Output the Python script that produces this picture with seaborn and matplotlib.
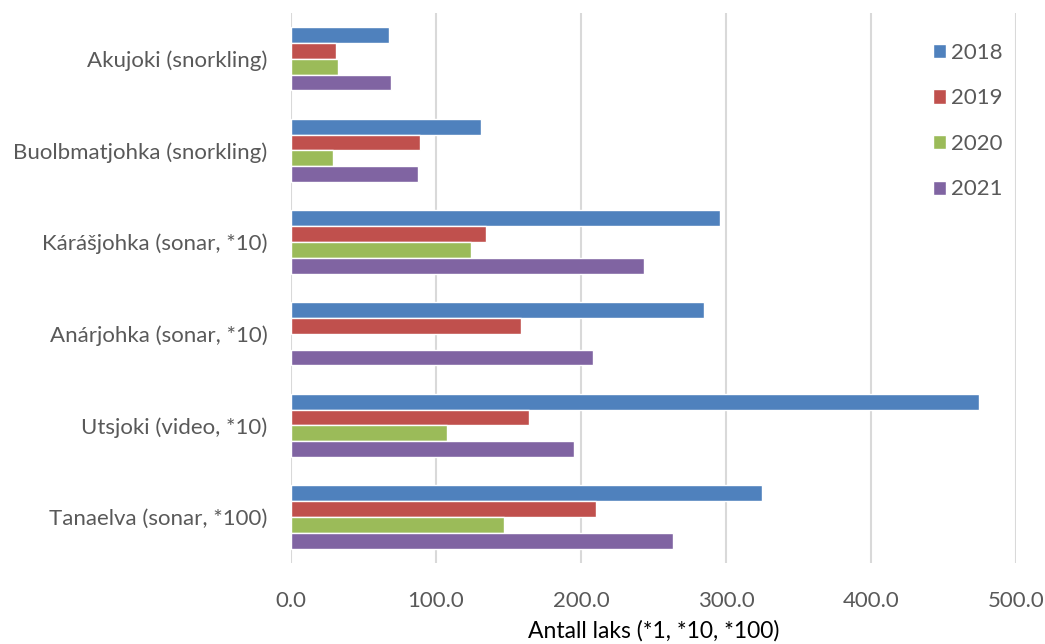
import numpy as np
import pandas as pd
import matplotlib
matplotlib.use("Agg")
import matplotlib.pyplot as plt
import seaborn as sns

rivers = [
    "Akujoki (snorkling)",
    "Buolbmatjohka (snorkling)",
    "Kárášjohka (sonar, *10)",
    "Anárjohka (sonar, *10)",
    "Utsjoki (video, *10)",
    "Tanaelva (sonar, *100)",
]
years = ["2018", "2019", "2020", "2021"]
v2018 = [67.9, 131.0, 296.2, 284.7, 474.6, 324.8]
v2019 = [30.8, 88.9, 134.3, 158.9, 164.4, 210.2]
v2020 = [32.7, 28.8, 123.9, np.nan, 107.6, 146.7]
v2021 = [68.8, 87.7, 243.7, 208.0, 195.2, 263.8]
colors = ["#4F81BD", "#C0504D", "#9BBB59", "#8064A2"]

df = pd.DataFrame({
    "elv": rivers * 4,
    "år": sum([[y] * len(rivers) for y in years], []),
    "antall": v2018 + v2019 + v2020 + v2021,
})

sns.set_theme(style="white")
plt.rcParams["font.family"] = ["Lato", "DejaVu Sans"]

fig = plt.figure(figsize=(10.45, 6.44), dpi=100)
ax = fig.add_axes([0.2785, 0.126, 0.9722 - 0.2785, 0.98 - 0.126])

sns.barplot(data=df, y="elv", x="antall", hue="år", order=rivers,
            hue_order=years, palette=colors, orient="h", width=0.69,
            saturation=1, errorbar=None, ax=ax, zorder=3)

ax.set_xlim(0, 500)
ax.set_ylim(5.5, -0.5)
ax.set_xticks([0, 100, 200, 300, 400, 500])
ax.set_xticklabels([f"{t:.1f}" for t in [0, 100, 200, 300, 400, 500]])
ax.xaxis.grid(True, color="#d9d9d9", linewidth=1.5, zorder=0)
ax.yaxis.grid(False)
for s in ax.spines.values():
    s.set_visible(False)
ax.tick_params(axis="both", length=0, labelsize=16, colors="#595959")
ax.tick_params(axis="x", pad=20)
ax.tick_params(axis="y", pad=17)
ax.set_ylabel("")
ax.set_xlabel("Antall laks (*1, *10, *100)", fontsize=16.5, color="#000000",
              labelpad=7)

leg = ax.legend(loc="upper left", bbox_to_anchor=(0.858, 0.982), frameon=False,
                fontsize=16, handlelength=0.6, handleheight=0.6,
                handletextpad=0.2, labelspacing=1.15, title=None)
for t in leg.get_texts():
    t.set_color("#595959")

fig.savefig("out.png", dpi=100)
